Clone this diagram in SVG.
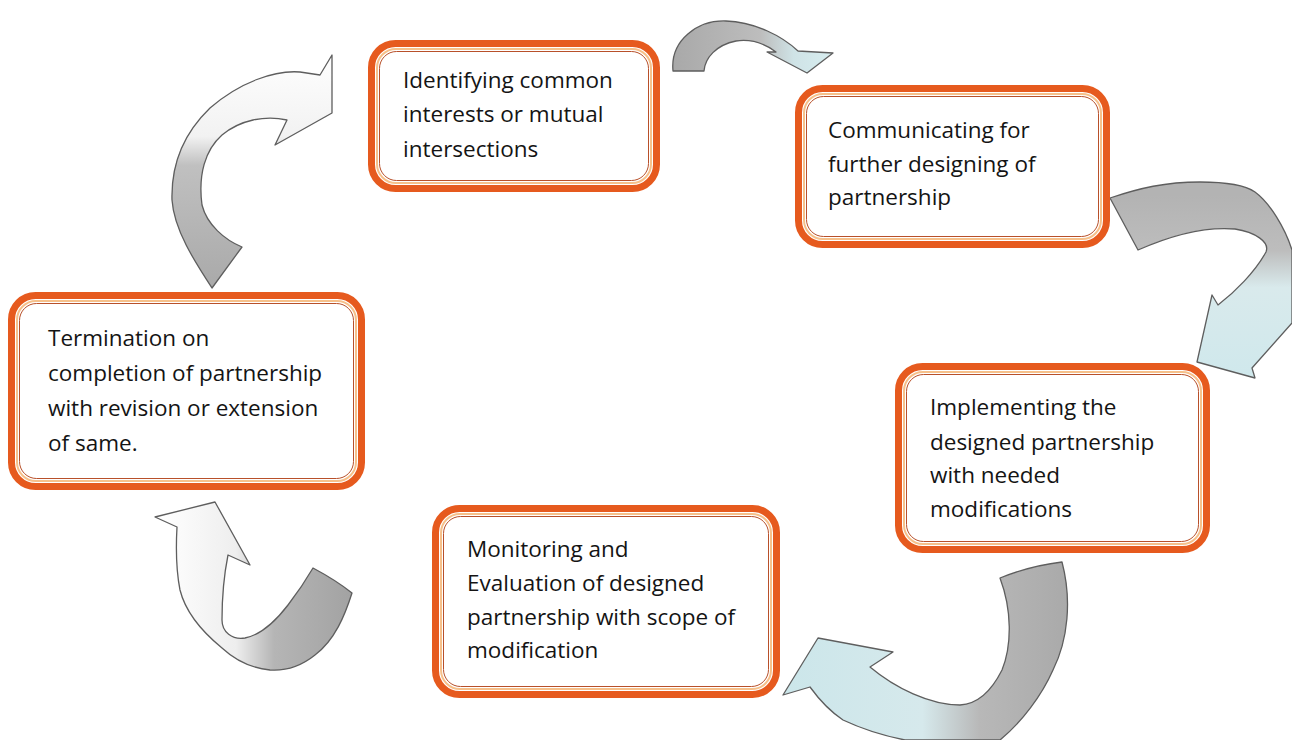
<svg xmlns="http://www.w3.org/2000/svg" width="1292" height="740" viewBox="0 0 1292 740">
<style>
.box{fill:#fff;stroke:#E65A1E;stroke-width:7}
.in1{fill:none;stroke:#F6C08A;stroke-width:2}
.in2{fill:none;stroke:#B8502A;stroke-width:1}
.t{font-family:"Open Sans","Liberation Sans",sans-serif;font-size:22.5px;fill:#141414}
.arr{stroke:#5e5e5e;stroke-width:1.3;stroke-linejoin:round}
</style>
<defs>
<linearGradient id="gA" x1="0" y1="290" x2="0" y2="50" gradientUnits="userSpaceOnUse">
<stop offset="0" stop-color="#a9a9a9"/><stop offset="0.52" stop-color="#c0c0c0"/><stop offset="0.64" stop-color="#f2f2f2"/><stop offset="1" stop-color="#ffffff"/>
</linearGradient>
<linearGradient id="gB" x1="670" y1="0" x2="835" y2="0" gradientUnits="userSpaceOnUse">
<stop offset="0" stop-color="#a8a8a8"/><stop offset="0.55" stop-color="#bdbdbd"/><stop offset="0.75" stop-color="#cfe3e6"/><stop offset="1" stop-color="#d8eef0"/>
</linearGradient>
<linearGradient id="gC" x1="0" y1="195" x2="0" y2="380" gradientUnits="userSpaceOnUse">
<stop offset="0" stop-color="#b3b3b3"/><stop offset="0.3" stop-color="#bdbdbd"/><stop offset="0.5" stop-color="#d9eaec"/><stop offset="1" stop-color="#cfe8ec"/>
</linearGradient>
<linearGradient id="gD" x1="1065" y1="0" x2="780" y2="0" gradientUnits="userSpaceOnUse">
<stop offset="0" stop-color="#aaaaaa"/><stop offset="0.3" stop-color="#b8b8b8"/><stop offset="0.5" stop-color="#d6e9ec"/><stop offset="1" stop-color="#cbe6ea"/>
</linearGradient>
<linearGradient id="gE" x1="350" y1="0" x2="160" y2="0" gradientUnits="userSpaceOnUse">
<stop offset="0" stop-color="#a3a3a3"/><stop offset="0.4" stop-color="#b5b5b5"/><stop offset="0.6" stop-color="#eeeeee"/><stop offset="1" stop-color="#ffffff"/>
</linearGradient>
</defs>
<rect width="1292" height="740" fill="#fff"/>

<g id="connectors">
<path id="arrow-term-to-ident" class="arr" fill="url(#gA)" d="M212,288 C195,262 174,230 172,200 C171,165 182,135 210,108 C240,82 275,70 300,72 L320,75 L332,55 L332,113 L275,145 L287,120 C265,115 240,120 222,135 C205,150 198,175 202,205 C207,225 225,240 242,247 Z"/>
<path id="arrow-ident-to-comm" class="arr" fill="url(#gB)" d="M673,71 C670,40 698,20 726,21 C755,22 782,36 798,51 L833,53 L807,73 L767,52 L776,52 C764,43 750,39 736,41 C716,45 705,58 704,71 Z"/>
<path id="arrow-comm-to-impl" class="arr" fill="url(#gC)" d="M1110,198 C1140,188 1165,182 1200,182 C1225,182 1245,185 1255,192 C1270,203 1285,228 1292,250 L1292,323 L1252,368 L1255,378 L1197,362 L1212,295 L1218,305 C1235,292 1255,272 1266,252 C1270,242 1255,232 1235,229 C1200,226 1165,238 1138,250 Z"/>
<path id="arrow-impl-to-mon" class="arr" fill="url(#gD)" d="M1000,578 C1020,570 1045,564 1062,562 C1072,600 1068,640 1053,670 C1042,695 1022,722 1000,740 L905,740 C880,735 860,728 843,720 C828,710 818,698 810,687 L783,695 L818,638 L893,652 L870,667 C895,688 930,705 960,705 C978,704 992,690 1002,670 C1012,645 1012,610 1000,578 Z"/>
<path id="arrow-mon-to-term" class="arr" fill="url(#gE)" d="M313,568 C328,576 342,585 352,593 C345,615 335,640 315,655 C300,667 285,671 270,670 C250,668 235,660 222,648 C200,630 185,610 180,590 C176,570 176,545 177,527 L155,517 L215,502 L250,565 L228,555 C224,575 222,600 222,620 C222,632 232,640 245,638 C260,635 275,622 288,605 C298,592 306,580 313,568 Z"/>
</g>

<g id="node-identifying">
<rect class="box" x="371.5" y="43.5" width="285" height="145" rx="24"/>
<rect class="in1" x="377" y="49" width="274" height="134" rx="19"/>
<rect class="in2" x="379.5" y="51.5" width="269" height="129" rx="17"/>
<text class="t" x="403" y="88">Identifying common</text>
<text class="t" x="403" y="122">interests or mutual</text>
<text class="t" x="403" y="157">intersections</text>
</g>

<g id="node-communicating">
<rect class="box" x="798.5" y="88.5" width="308" height="156" rx="24"/>
<rect class="in1" x="804" y="94" width="297" height="145" rx="19"/>
<rect class="in2" x="806.5" y="96.5" width="292" height="140" rx="17"/>
<text class="t" x="828" y="138">Communicating for</text>
<text class="t" x="828" y="172">further designing of</text>
<text class="t" x="828" y="205">partnership</text>
</g>

<g id="node-implementing">
<rect class="box" x="898.5" y="366.5" width="308" height="183" rx="24"/>
<rect class="in1" x="904" y="372" width="297" height="172" rx="19"/>
<rect class="in2" x="906.5" y="374.5" width="292" height="167" rx="17"/>
<text class="t" x="930" y="415">Implementing the</text>
<text class="t" x="930" y="450">designed partnership</text>
<text class="t" x="930" y="483">with needed</text>
<text class="t" x="930" y="517">modifications</text>
</g>

<g id="node-monitoring">
<rect class="box" x="435.5" y="508.5" width="341" height="186" rx="24"/>
<rect class="in1" x="441" y="514" width="330" height="175" rx="19"/>
<rect class="in2" x="443.5" y="516.5" width="325" height="170" rx="17"/>
<text class="t" x="467" y="557">Monitoring and</text>
<text class="t" x="467" y="591">Evaluation of designed</text>
<text class="t" x="467" y="625">partnership with scope of</text>
<text class="t" x="467" y="658">modification</text>
</g>

<g id="node-termination">
<rect class="box" x="11.5" y="295.5" width="350" height="191" rx="24"/>
<rect class="in1" x="17" y="301" width="339" height="180" rx="19"/>
<rect class="in2" x="19.5" y="303.5" width="334" height="175" rx="17"/>
<text class="t" x="48" y="346">Termination on</text>
<text class="t" x="48" y="381">completion of partnership</text>
<text class="t" x="48" y="416">with revision or extension</text>
<text class="t" x="48" y="451">of same.</text>
</g>
</svg>
